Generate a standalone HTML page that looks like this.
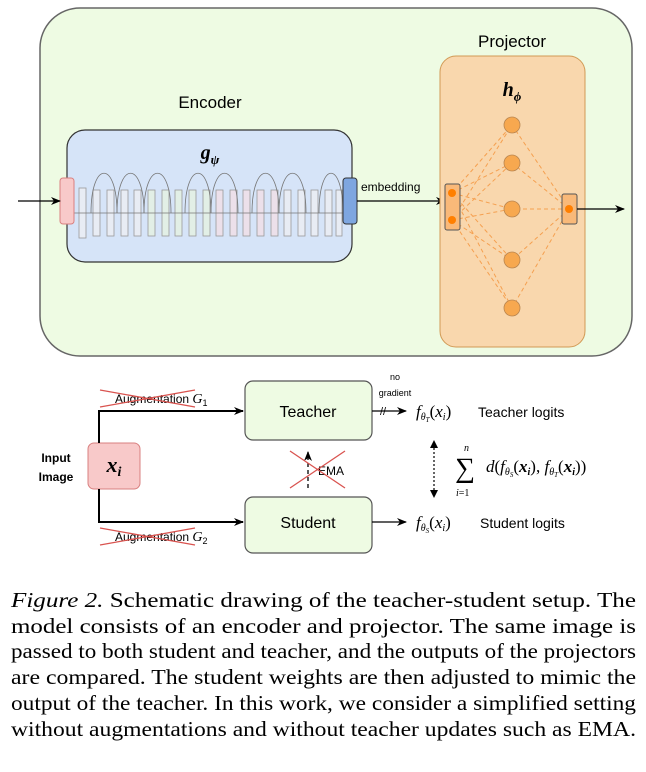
<!DOCTYPE html>
<html><head><meta charset="utf-8"><style>
html,body{margin:0;padding:0;background:#fff;}
svg{display:block;}
</style></head><body>
<svg width="646" height="772" viewBox="0 0 646 772" xmlns="http://www.w3.org/2000/svg" font-family="Liberation Sans, sans-serif">
<defs>
<marker id="ah" markerWidth="10" markerHeight="8" refX="9" refY="4" orient="auto" markerUnits="userSpaceOnUse"><path d="M0,0 L10,4 L0,8 L3,4 Z" fill="#000"/></marker>
</defs>
<rect x="40" y="8" width="592" height="348" rx="40" fill="#eefbe3" stroke="#666" stroke-width="1.5"/>
<text x="210" y="108" font-size="17" text-anchor="middle">Encoder</text>
<text x="512" y="47" font-size="17" text-anchor="middle">Projector</text>
<rect x="67" y="130" width="285" height="132" rx="18" fill="#d6e4f8" stroke="#333" stroke-width="1.2"/>
<text x="210" y="159" font-size="20" font-style="italic" font-weight="bold" font-family="Liberation Serif, serif" text-anchor="middle">g<tspan font-size="13" dy="5">ψ</tspan></text>
<g stroke="#999" stroke-width="0.8">
<rect x="79" y="188" width="7" height="50" fill="#e8ecf4"/>
<rect x="93" y="190" width="7" height="46" fill="#e8ecf4"/>
<rect x="107" y="190" width="7" height="46" fill="#e8ecf4"/>
<rect x="121" y="190" width="7" height="46" fill="#e8ecf4"/>
<rect x="134" y="190" width="7" height="46" fill="#e8ecf4"/>
<rect x="148" y="190" width="7" height="46" fill="#e2efe6"/>
<rect x="162" y="190" width="7" height="46" fill="#e2efe6"/>
<rect x="175" y="190" width="7" height="46" fill="#e2efe6"/>
<rect x="189" y="190" width="7" height="46" fill="#e2efe6"/>
<rect x="203" y="190" width="7" height="46" fill="#e2efe6"/>
<rect x="216" y="190" width="7" height="46" fill="#ece0ea"/>
<rect x="230" y="190" width="7" height="46" fill="#ece0ea"/>
<rect x="243" y="190" width="7" height="46" fill="#ece0ea"/>
<rect x="257" y="190" width="7" height="46" fill="#ece0ea"/>
<rect x="271" y="190" width="7" height="46" fill="#ece0ea"/>
<rect x="284" y="190" width="7" height="46" fill="#e8ecf4"/>
<rect x="298" y="190" width="7" height="46" fill="#e8ecf4"/>
<rect x="311" y="190" width="7" height="46" fill="#e8ecf4"/>
<rect x="325" y="190" width="7" height="46" fill="#e8ecf4"/>
<rect x="336" y="190" width="6" height="46" fill="#e8ecf4"/>
</g>
<g stroke="#777" stroke-width="0.8" fill="none">
<line x1="74" y1="213" x2="343" y2="213"/>
<path d="M91,213 C91,160 117,160 117,213"/>
<path d="M117,213 C117,160 144,160 144,213"/>
<path d="M144,213 C144,160 171,160 171,213"/>
<path d="M185,213 C185,160 211,160 211,213"/>
<path d="M211,213 C211,160 238,160 238,213"/>
<path d="M252,213 C252,160 279,160 279,213"/>
<path d="M279,213 C279,160 306,160 306,213"/>
<path d="M319,213 C319,160 343,160 343,213"/>
</g>
<rect x="60" y="178" width="14" height="46" rx="3" fill="#f8c9c9" stroke="#d98080"/>
<rect x="343" y="178" width="14" height="46" rx="3" fill="#7ea6e0" stroke="#333"/>
<line x1="18" y1="201" x2="60" y2="201" stroke="#000" stroke-width="1.3" marker-end="url(#ah)"/>
<line x1="357" y1="201" x2="445" y2="201" stroke="#000" stroke-width="1.3" marker-end="url(#ah)"/>
<text x="361" y="191" font-size="12">embedding</text>
<rect x="440" y="56" width="145" height="291" rx="16" fill="#f9d7ad" stroke="#d19a55"/>
<text x="512" y="96" font-size="20" font-style="italic" font-weight="bold" font-family="Liberation Serif, serif" text-anchor="middle">h<tspan font-size="13" dy="5">ϕ</tspan></text>
<g stroke="#f5a050" stroke-width="1" stroke-dasharray="4,3" fill="none">
<line x1="452" y1="193" x2="512" y2="125"/><line x1="452" y1="193" x2="512" y2="163"/><line x1="452" y1="193" x2="512" y2="209"/><line x1="452" y1="193" x2="512" y2="260"/><line x1="452" y1="193" x2="512" y2="308"/>
<line x1="452" y1="220" x2="512" y2="125"/><line x1="452" y1="220" x2="512" y2="163"/><line x1="452" y1="220" x2="512" y2="209"/><line x1="452" y1="220" x2="512" y2="260"/><line x1="452" y1="220" x2="512" y2="308"/>
<line x1="569" y1="209" x2="512" y2="125"/><line x1="569" y1="209" x2="512" y2="163"/><line x1="569" y1="209" x2="512" y2="209"/><line x1="569" y1="209" x2="512" y2="260"/><line x1="569" y1="209" x2="512" y2="308"/>
</g>
<g fill="#f7a84f" stroke="#b88550" stroke-width="0.8">
<circle cx="512" cy="125" r="8"/><circle cx="512" cy="163" r="8"/><circle cx="512" cy="209" r="8"/><circle cx="512" cy="260" r="8"/><circle cx="512" cy="308" r="8"/>
</g>
<rect x="445" y="184" width="15" height="46" rx="2" fill="#f9b979" stroke="#555"/>
<rect x="562" y="194" width="15" height="30" rx="2" fill="#f9b979" stroke="#555"/>
<circle cx="452" cy="193" r="4" fill="#ff7f00"/><circle cx="452" cy="220" r="4" fill="#ff7f00"/><circle cx="569" cy="209" r="4" fill="#ff7f00"/>
<line x1="577" y1="209" x2="624" y2="209" stroke="#000" stroke-width="1.3" marker-end="url(#ah)"/>
<rect x="245" y="381" width="127" height="59" rx="8" fill="#eefbe3" stroke="#555" stroke-width="1.2"/>
<text x="308" y="417" font-size="16" text-anchor="middle">Teacher</text>
<rect x="245" y="497" width="127" height="56" rx="8" fill="#eefbe3" stroke="#555" stroke-width="1.2"/>
<text x="308" y="528" font-size="16" text-anchor="middle">Student</text>
<rect x="88" y="443" width="52" height="46" rx="6" fill="#f8c9c9" stroke="#d98080"/>
<text x="114" y="472" font-size="22" font-style="italic" font-weight="bold" font-family="Liberation Serif, serif" text-anchor="middle">x<tspan font-size="14" dy="4">i</tspan></text>
<text x="56" y="462" font-size="12" font-weight="bold" text-anchor="middle">Input</text>
<text x="56" y="481" font-size="12" font-weight="bold" text-anchor="middle">Image</text>
<path d="M99,443 V411 H243" stroke="#000" stroke-width="2" fill="none" marker-end="url(#ah)"/>
<path d="M99,489 V522 H243" stroke="#000" stroke-width="2" fill="none" marker-end="url(#ah)"/>
<text x="115" y="403" font-size="12">Augmentation <tspan font-family="Liberation Serif, serif" font-style="italic" font-size="14">G</tspan><tspan font-size="9" dy="3">1</tspan></text>
<text x="115" y="541" font-size="12">Augmentation <tspan font-family="Liberation Serif, serif" font-style="italic" font-size="14">G</tspan><tspan font-size="9" dy="3">2</tspan></text>
<g stroke="#d9534f" stroke-width="1.3">
<line x1="100" y1="390" x2="195" y2="407"/><line x1="100" y1="407" x2="195" y2="390"/>
<line x1="100" y1="528" x2="195" y2="545"/><line x1="100" y1="545" x2="195" y2="528"/>
</g>
<line x1="372" y1="411" x2="406" y2="411" stroke="#000" stroke-width="1.3" marker-end="url(#ah)"/>
<text x="380" y="415" font-size="11">//</text>
<text x="395" y="380" font-size="9" text-anchor="middle">no</text>
<text x="395" y="396" font-size="9" text-anchor="middle">gradient</text>
<line x1="372" y1="522" x2="406" y2="522" stroke="#000" stroke-width="1.3" marker-end="url(#ah)"/>
<line x1="308" y1="488" x2="308" y2="452" stroke="#000" stroke-width="1.3" stroke-dasharray="4,3" marker-end="url(#ah)"/>
<text x="318" y="475" font-size="12">EMA</text>
<g stroke="#d9534f" stroke-width="1.3"><line x1="290" y1="451" x2="345" y2="488"/><line x1="290" y1="488" x2="345" y2="451"/></g>
<line x1="434" y1="444" x2="434" y2="494" stroke="#000" stroke-width="1.2" stroke-dasharray="2,2"/>
<path d="M430,448 L434,440 L438,448 Z M430,490 L434,498 L438,490 Z" fill="#000"/>
<g font-family="Liberation Serif, serif" font-style="italic">
<text x="416" y="417" font-size="17">f<tspan font-size="10" dy="3">θ</tspan><tspan font-size="7" dy="2">T</tspan><tspan font-style="normal" dy="-5">(</tspan>x<tspan font-size="10" dy="3">i</tspan><tspan font-style="normal" dy="-3">)</tspan></text>
<text x="416" y="528" font-size="17">f<tspan font-size="10" dy="3">θ</tspan><tspan font-size="7" dy="2">S</tspan><tspan font-style="normal" dy="-5">(</tspan>x<tspan font-size="10" dy="3">i</tspan><tspan font-style="normal" dy="-3">)</tspan></text>
<text x="455" y="477" font-size="28" font-style="normal">∑</text>
<text x="464" y="451" font-size="10">n</text>
<text x="456" y="496" font-size="10" font-style="normal"><tspan font-style="italic">i</tspan>=1</text>
<text x="486" y="472" font-size="17">d<tspan font-style="normal">(</tspan>f<tspan font-size="10" dy="3">θ</tspan><tspan font-size="7" dy="2">S</tspan><tspan font-style="normal" dy="-5">(</tspan><tspan font-weight="bold">x</tspan><tspan font-size="10" dy="3" font-weight="bold">i</tspan><tspan font-style="normal" dy="-3">), </tspan>f<tspan font-size="10" dy="3">θ</tspan><tspan font-size="7" dy="2">T</tspan><tspan font-style="normal" dy="-5">(</tspan><tspan font-weight="bold">x</tspan><tspan font-size="10" dy="3" font-weight="bold">i</tspan><tspan font-style="normal" dy="-3">))</tspan></text>
</g>
<text x="478" y="417" font-size="14">Teacher logits</text>
<text x="480" y="528" font-size="14">Student logits</text>
<g font-family="Liberation Serif, serif" font-size="21" fill="#000">
<text x="11" y="607" textLength="625" lengthAdjust="spacingAndGlyphs"><tspan font-style="italic">Figure 2.</tspan> Schematic drawing of the teacher-student setup.  The</text>
<text x="11" y="633" textLength="625" lengthAdjust="spacingAndGlyphs">model consists of an encoder and projector.  The same image is</text>
<text x="11" y="658" textLength="625" lengthAdjust="spacingAndGlyphs">passed to both student and teacher, and the outputs of the projectors</text>
<text x="11" y="684" textLength="625" lengthAdjust="spacingAndGlyphs">are compared.  The student weights are then adjusted to mimic the</text>
<text x="11" y="710" textLength="625" lengthAdjust="spacingAndGlyphs">output of the teacher.  In this work, we consider a simplified setting</text>
<text x="11" y="736" textLength="625" lengthAdjust="spacingAndGlyphs">without augmentations and without teacher updates such as EMA.</text>
</g>
</svg>
</body></html>
